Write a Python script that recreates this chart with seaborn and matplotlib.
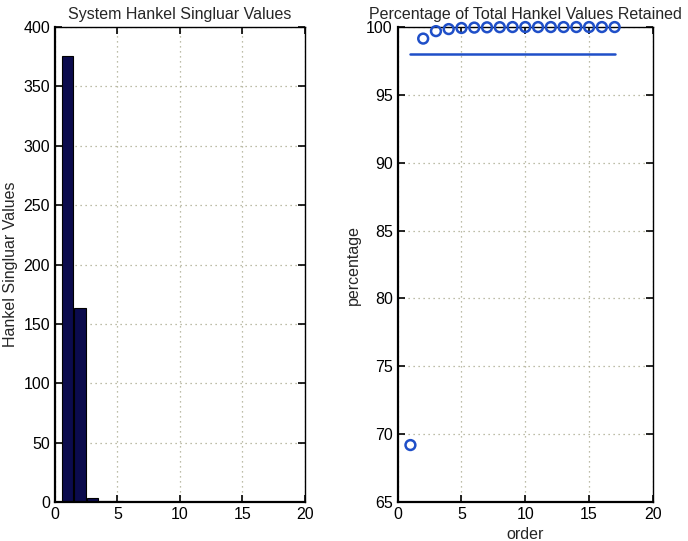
import numpy as np
import pandas as pd
import seaborn as sns
import matplotlib.pyplot as plt

# Hankel singular values
orders = list(range(1, 18))
hankel_sv = [376, 163, 3, 1.2, 0.5, 0.3, 0.2, 0.15, 0.1, 0.08, 0.06, 0.05, 0.04, 0.03, 0.02, 0.01, 0.01]

# Percentage of total retained (circles) and the 98% threshold line
pct_retained = [69.2, 99.15, 99.7, 99.85, 99.93, 99.96, 99.98, 99.99, 100.0,
                100.0, 100.0, 100.0, 100.0, 100.0, 100.0, 100.0, 100.0]
threshold_x = [1, 17]
threshold_y = [98, 98]

sns.set_style('ticks')
plt.rcParams['font.family'] = ['Liberation Sans', 'DejaVu Sans']
plt.rcParams['xtick.direction'] = 'in'
plt.rcParams['ytick.direction'] = 'in'

fig = plt.figure(figsize=(6.88, 5.41), dpi=100)
ax1 = fig.add_axes([0.080, 0.072, 0.363, 0.878])
ax2 = fig.add_axes([0.578, 0.072, 0.371, 0.878])

grid_kw = dict(color='#a8a88c', linestyle=(0, (1, 3)), linewidth=0.9)

#Left: bar chart of singular values
df_sv = pd.DataFrame({'order': orders, 'sv': hankel_sv})
sns.barplot(data=df_sv, x='order', y='sv', native_scale=True, width=0.92,
            color='#0b0b4d', edgecolor='black', linewidth=0.8, saturation=1, ax=ax1)
ax1.set_xlim(0, 20)
ax1.set_ylim(0, 400)
ax1.set_xticks([0, 5, 10, 15, 20])
ax1.set_yticks(range(0, 401, 50))
ax1.set_xlabel('')
ax1.set_ylabel('Hankel Singluar Values', fontsize=11.5)
ax1.set_title('System Hankel Singluar Values', fontsize=11.5)
ax1.grid(True, **grid_kw)
ax1.set_axisbelow(True)

#Right: cumulative percentage retained
df_pct = pd.DataFrame({'order': orders, 'pct': pct_retained})
sns.lineplot(x=threshold_x, y=threshold_y, color='#1f4fc8', linewidth=1.8, ax=ax2)
sns.scatterplot(data=df_pct, x='order', y='pct', marker='o', s=50,
                facecolors='none', edgecolor='#1f4fc8', linewidth=1.8, ax=ax2,
                clip_on=False, zorder=3)
ax2.set_xlim(0, 20)
ax2.set_ylim(65, 100)
ax2.set_xticks([0, 5, 10, 15, 20])
ax2.set_yticks(range(65, 101, 5))
ax2.set_xlabel('order', fontsize=11.5)
ax2.set_ylabel('percentage', fontsize=11.5)
ax2.set_title('Percentage of Total Hankel Values Retained', fontsize=11.5)
ax2.grid(True, **grid_kw)
ax2.set_axisbelow(True)

for ax in (ax1, ax2):
    for sp in ax.spines.values():
        sp.set_visible(True)
        sp.set_color('black')
        sp.set_linewidth(1.0)
    ax.spines['left'].set_linewidth(1.6)
    ax.spines['bottom'].set_linewidth(1.6)
    ax.tick_params(labelsize=11.5, length=5, width=1.2, top=True, right=True, colors='black')

fig.savefig('out.png', dpi=100)
